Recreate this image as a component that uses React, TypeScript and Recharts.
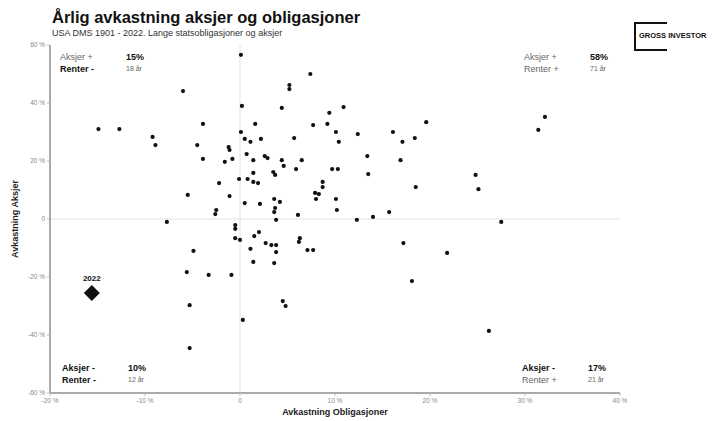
import { ScatterChart, Scatter, XAxis, YAxis, ReferenceLine } from 'recharts'

// annual real returns (%), bonds on x, stocks on y
const bondReturns = [
  0.1, 7.4, -6.0, 5.2, 5.2, 0.2, 4.4, -3.9, 1.6, 7.7, -14.9, -12.7, -9.2, -8.9, 0.1, 0.5, 1.1, 2.2, 5.7, -4.5,
  -1.2, -1.1, 0.7, 1.4, 2.6, 2.9, 4.4, 4.6, 6.5, -3.9, -0.8, -1.6, 5.9, 3.5, 3.7, 1.4, -0.1, 0.8, 1.4, 1.9,
  -2.2, -5.5, -1.1, 7.9, 8.3, 8.0, 0.5, 2.1, 3.6, 4.2, 3.7, 3.6, 6.1, -2.5, -2.6, -7.7, 3.8, -0.5, -0.5, -0.5,
  0.0, 1.5, 2.0, 2.7, 3.3, 3.8, 6.3, 6.2, 7.1, 7.7, 1.1, -4.9, 3.8, 1.4, 3.6, -5.6, -3.3, -0.9, -5.3, 4.5,
  4.8, 0.3, -5.3, 10.9, 9.4, 9.2, 10.1, 12.4, 10.4, 16.1, 17.1, 18.4, 19.6, 32.1, 31.4, 13.4, 16.9, 40.4, 9.7, 10.3,
  13.5, 8.7, 8.7, 18.5, 24.8, 25.1, 10.1, 10.2, 15.7, 12.3, 14.0, 27.5, 17.2, 21.8, 18.1, 26.2,
]
const stockReturns = [
  56.6, 50.0, 44.1, 46.2, 44.8, 39.0, 38.3, 32.8, 32.8, 32.4, 31.0, 31.0, 28.3, 25.5, 30.0, 27.6, 26.6, 27.6, 27.9, 25.5,
  24.8, 23.8, 22.4, 20.3, 21.7, 21.0, 20.3, 18.3, 20.3, 20.7, 20.7, 19.7, 17.2, 16.2, 15.2, 15.9, 13.8, 13.8, 12.8, 12.4,
  12.4, 8.3, 7.9, 9.0, 8.6, 6.9, 5.5, 5.2, 6.9, 5.9, 3.8, 2.4, 1.4, 3.1, 1.7, -1.0, -0.3, -2.1, -3.4, -6.6,
  -7.2, -5.9, -4.5, -8.3, -9.0, -9.0, -6.6, -7.9, -10.7, -10.7, -10.3, -11.0, -11.4, -14.8, -15.2, -18.3, -19.3, -19.3, -29.7, -28.3,
  -30.0, -34.8, -44.5, 38.6, 36.6, 32.8, 30.0, 29.3, 26.6, 30.0, 26.6, 27.9, 33.4, 35.2, 30.7, 21.7, 20.3, 20.0, 17.2, 17.2,
  15.5, 12.8, 11.0, 11.0, 15.2, 10.3, 6.9, 3.1, 2.4, -0.3, 0.7, -1.0, -8.3, -11.7, -21.4, -38.6,
]
const highlightYear = '2022'
const highlightBond = -15.6
const highlightStock = -25.5

const xTicks = [-20, -10, 0, 10, 20, 30, 40]
const yTicks = [-60, -40, -20, 0, 20, 40, 60]

// quadrant summaries: share of years and number of years
const quadrants = [
  { stocks: 'Aksjer +', bonds: 'Renter -', share: '15%', years: '18 år', left: 60, top: 51 },
  { stocks: 'Aksjer +', bonds: 'Renter +', share: '58%', years: '71 år', left: 524, top: 51 },
  { stocks: 'Aksjer -', bonds: 'Renter -', share: '10%', years: '12 år', left: 62, top: 362 },
  { stocks: 'Aksjer -', bonds: 'Renter +', share: '17%', years: '21 år', left: 522, top: 362 },
]

const years = bondReturns.map((b, i) => ({ x: b, y: stockReturns[i] }))
const highlight = [{ x: highlightBond, y: highlightStock, name: highlightYear }]

const font = 'Liberation Sans, Arial, sans-serif'
const fmt = (v: number) => (v === 0 ? '0' : `${v} %`)

const Dot = (p: any) => <circle cx={p.cx} cy={p.cy} r={2.1} fill="#111" />

const Diamond = (props: any) => {
  const { cx, cy } = props
  const r = 8
  return (
    <g>
      <polygon points={`${cx},${cy - r} ${cx + r},${cy} ${cx},${cy + r} ${cx - r},${cy}`} fill="#111" />
      <text x={cx} y={cy - 12} textAnchor="middle" fontSize={8} fontWeight="bold" fontFamily={font} fill="#111">
        {highlightYear}
      </text>
    </g>
  )
}

function QuadrantBox({ q }: { q: (typeof quadrants)[number] }) {
  const lbl = (t: string) => {
    const neg = t.endsWith('-')
    return { color: neg ? '#111' : '#666', fontWeight: neg ? 'bold' : 'normal' } as const
  }
  return (
    <div style={{ position: 'absolute', left: q.left, top: q.top, fontFamily: font, fontSize: 9, lineHeight: '12px' }}>
      <div style={{ display: 'flex' }}>
        <span style={{ width: 66, ...lbl(q.stocks) }}>{q.stocks}</span>
        <span style={{ fontWeight: 'bold', color: '#111' }}>{q.share}</span>
      </div>
      <div style={{ display: 'flex' }}>
        <span style={{ width: 66, ...lbl(q.bonds) }}>{q.bonds}</span>
        <span style={{ color: '#666', fontSize: 7 }}>{q.years}</span>
      </div>
    </div>
  )
}

export default function App() {
  return (
    <div style={{ position: 'absolute', left: 0, top: 0, width: 712, height: 421, background: '#fff', fontFamily: font, overflow: 'hidden' }}>
      <div style={{ position: 'absolute', left: 52, top: 8, fontSize: 16.5, fontWeight: 'bold', color: '#111' }}>
        Årlig avkastning aksjer og obligasjoner
      </div>
      <div style={{ position: 'absolute', left: 52, top: 28, fontSize: 9, color: '#333' }}>
        USA DMS 1901 - 2022. Lange statsobligasjoner og aksjer
      </div>
      <div
        style={{
          position: 'absolute', left: 634, top: 22, width: 31, height: 25,
          borderLeft: '2px solid #111', borderTop: '2px solid #111', borderBottom: '2px solid #111',
        }}
      />
      <div style={{ position: 'absolute', left: 639, top: 31, fontSize: 7.5, fontWeight: 'bold', color: '#111', whiteSpace: 'nowrap' }}>
        GROSS INVESTOR
      </div>

      <ScatterChart width={712} height={421} margin={{ top: 45, right: 92, bottom: 8, left: 10 }}>
        <XAxis
          type="number"
          dataKey="x"
          domain={[-20, 40]}
          ticks={xTicks}
          allowDataOverflow
          tickFormatter={fmt}
          height={20}
          tickSize={3}
          tick={{ fontSize: 6.5, fill: '#888', fontFamily: font }}
          axisLine={{ stroke: '#aaa', strokeWidth: 2 }}
          tickLine={{ stroke: '#bbb' }}
        />
        <YAxis
          type="number"
          dataKey="y"
          domain={[-60, 60]}
          ticks={yTicks}
          allowDataOverflow
          tickFormatter={fmt}
          width={40}
          tickSize={3}
          tick={{ fontSize: 6.5, fill: '#888', fontFamily: font }}
          axisLine={{ stroke: '#aaa', strokeWidth: 2 }}
          tickLine={{ stroke: '#bbb' }}
        />
        <ReferenceLine x={0} stroke="#e2e2e2" />
        <ReferenceLine y={0} stroke="#e2e2e2" />
        <Scatter data={years} fill="#111" shape={Dot} isAnimationActive={false} />
        <Scatter data={highlight} shape={Diamond} isAnimationActive={false} />
      </ScatterChart>

      {quadrants.map((q, i) => (
        <QuadrantBox key={i} q={q} />
      ))}

      <div style={{ position: 'absolute', left: 50, width: 570, top: 407, textAlign: 'center', fontSize: 9, fontWeight: 'bold', color: '#222' }}>
        Avkastning Obligasjoner
      </div>
      <div
        style={{
          position: 'absolute', left: 15, top: 219, fontSize: 9, fontWeight: 'bold', color: '#222', whiteSpace: 'nowrap',
          transform: 'translate(-50%, -50%) rotate(-90deg)',
        }}
      >
        Avkastning Aksjer
      </div>
    </div>
  )
}
